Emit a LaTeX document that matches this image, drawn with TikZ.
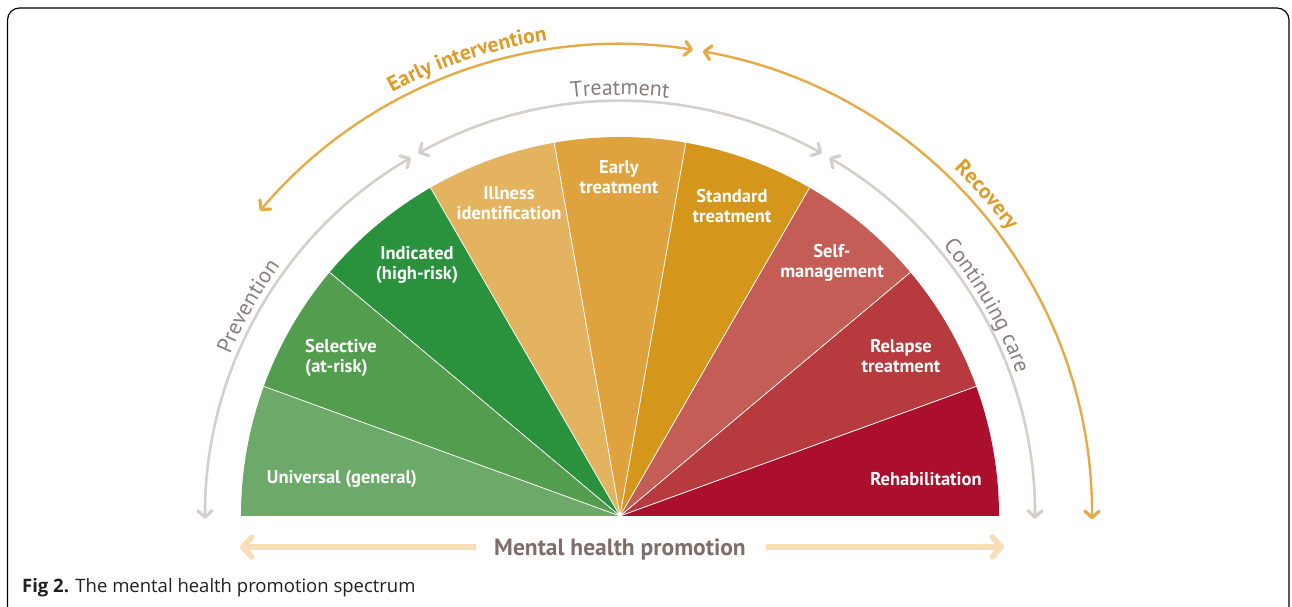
\documentclass[tikz,border=0pt]{standalone}
\usepackage{fontspec}
\setmainfont{PT Sans}
\newfontfamily\capfont{Open Sans}
\usetikzlibrary{arrows.meta,decorations.text}
\definecolor{cUni}{HTML}{6DAA69}
\definecolor{cSel}{HTML}{539D4F}
\definecolor{cInd}{HTML}{2A913D}
\definecolor{cIll}{HTML}{E4B360}
\definecolor{cEarly}{HTML}{DEA23F}
\definecolor{cStd}{HTML}{D5961C}
\definecolor{cSelf}{HTML}{C45D56}
\definecolor{cRel}{HTML}{B73A3E}
\definecolor{cReh}{HTML}{AC0F2B}
\definecolor{garc}{HTML}{D4CECD}
\definecolor{gtext}{HTML}{8A7E7B}
\definecolor{oarc}{HTML}{E6AB46}
\definecolor{otext}{HTML}{DE9B28}
\definecolor{peach}{HTML}{F8DDB6}
\definecolor{mhptext}{HTML}{7D6E6A}
\definecolor{captext}{HTML}{231F20}
\newcommand\grayarcfont{\fontsize{22}{26}\selectfont}
\newcommand\orangearcfont{\fontsize{21.5}{25}\selectfont\bfseries}
\tikzset{
  gtip/.tip={Straight Barb[length=6.5pt,width=14pt,line width=3.2pt,round]},
  otip/.tip={Straight Barb[length=6.5pt,width=14pt,line width=3.2pt,round]},
  ptip/.tip={Straight Barb[length=9pt,width=20pt,line width=5.5pt,round]},
  grayarc/.style={draw=garc, line width=2.6pt, {gtip}-{gtip}},
  orangearc/.style={draw=oarc, line width=2.4pt, {otip}-{otip}},
  peacharrow/.style={draw=peach, line width=5.5pt, -{ptip}},
  slicelab/.style={text=white, font=\fontsize{18.5}{20}\selectfont\bfseries, align=center, inner sep=0pt},
  graylab/.style={decorate, decoration={text along path, text align=center, text color=gtext}},
  orangelab/.style={decorate, decoration={text along path, text align=center, text color=otext}},
}
\begin{document}
\begin{tikzpicture}[x=1pt,y=1pt]
\useasboundingbox (0,0) rectangle (1292,607);
\begin{scope}
  \clip (0,0) rectangle (1292,607);
  \draw[line width=1.2pt, rounded corners=12pt] (7.5,-20) rectangle (1289,599);
\end{scope}

\begin{scope}[shift={(620,91)}]
  \coordinate (O) at (0,0);
  % fan
  \foreach \a/\c in {0/cReh,20/cRel,40/cSelf,60/cStd,80/cEarly,100/cIll,120/cInd,140/cSel,160/cUni}
    \fill[\c] (O) -- (\a:379pt) arc[start angle=\a, end angle=\a+20, radius=379pt] -- cycle;
  \foreach \a in {20,40,...,160}
    \draw[white, line width=0.8pt] (O) -- (\a:379pt);

  % gray arcs
  \draw[grayarc] (180.4:415pt) arc[start angle=180.4, end angle=120.3, radius=415pt];
  \draw[grayarc] (119.1:415pt) arc[start angle=119.1, end angle=60.9, radius=415pt];
  \draw[grayarc] (59.7:415pt) arc[start angle=59.7, end angle=-0.4, radius=415pt];

  % orange arcs
  \draw[orangearc] (139.7:472pt) arc[start angle=139.7, end angle=81.1, radius=472pt];
  \draw[orangearc] (79.9:472pt) arc[start angle=79.9, end angle=-0.4, radius=472pt];

  % arc labels
  \path[graylab, decoration={text={|\grayarcfont|Prevention}}]
    (168.6:422pt) arc[start angle=168.6, end angle=132.6, radius=422pt];
  \path[graylab, decoration={text={|\grayarcfont|Treatment}}]
    (115:421pt) arc[start angle=115, end angle=65, radius=421pt];
  \path[graylab, decoration={text={|\grayarcfont|Continuing care}}]
    (58:421pt) arc[start angle=58, end angle=1.6, radius=421pt];
  \path[orangelab, decoration={text={|\orangearcfont|Early intervention}}]
    (137:481pt) arc[start angle=137, end angle=80, radius=481pt];
  \path[orangelab, decoration={text={|\orangearcfont|Recovery}}]
    (62:482pt) arc[start angle=62, end angle=20.4, radius=482pt];
\end{scope}

% slice labels
\node[slicelab] (uni) at (342,128) {Universal (general)};
\node[slicelab, align=left, anchor=west] (sel) at (305,249) {Selective\\(at-risk)};
\node[slicelab] (ind) at (417,342) {Indicated\\(high-risk)};
\node[slicelab] (ill) at (509,404) {Illness\\identification};
\node[slicelab] (ear) at (619,430) {Early\\treatment};
\node[slicelab] (std) at (732,401) {Standard\\treatment};
\node[slicelab] (slf) at (832,344) {Self-\\management};
\node[slicelab] (rel) at (901,251) {Relapse\\treatment};
\node[slicelab] (reh) at (926,128) {Rehabilitation};

% mental health promotion
\node[font=\fontsize{23.5}{26}\selectfont\bfseries, text=mhptext, anchor=base] (mhp) at (620,51) {Mental health promotion};
\coordinate (lend) at (240,60);
\coordinate (rend) at (1004,60);
\draw[peacharrow] ([xshift=-15pt]mhp.west |- lend) -- (lend);
\draw[peacharrow] ([xshift=17pt]mhp.east |- rend) -- (rend);

% caption
\node[anchor=base west, inner sep=0pt, text=captext, font=\capfont\fontsize{18.5}{22}\selectfont] (cap) at (22,14) {\textbf{Fig 2.} The mental health promotion spectrum};
\end{tikzpicture}
\end{document}
